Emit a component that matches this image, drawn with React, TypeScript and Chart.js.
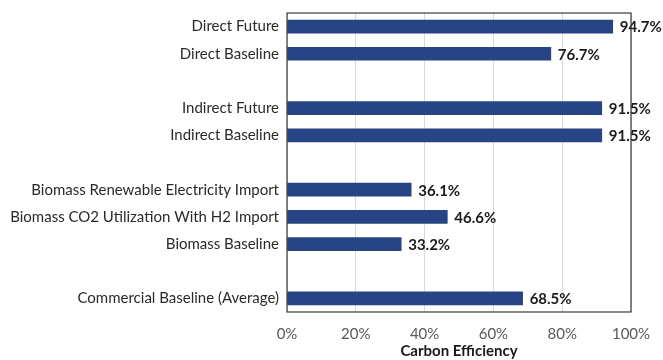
import React, { useEffect, useRef } from "react";
import { Chart, registerables } from "chart.js";

Chart.register(...registerables);

const categories = [
  "Direct Future",
  "Direct Baseline",
  "",
  "Indirect Future",
  "Indirect Baseline",
  "",
  "Biomass Renewable Electricity Import",
  "Biomass CO2 Utilization With H2 Import",
  "Biomass Baseline",
  "",
  "Commercial Baseline (Average)",
];
const efficiency: (number | null)[] = [94.7, 76.7, null, 91.5, 91.5, null, 36.1, 46.6, 33.2, null, 68.5];
const xTicks = [0, 20, 40, 60, 80, 100];

const FONT = "Lato, 'Open Sans', sans-serif";

const valueLabels = {
  id: "valueLabels",
  afterDatasetsDraw(chart: any) {
    const ctx = chart.ctx;
    const meta = chart.getDatasetMeta(0);
    ctx.save();
    ctx.font = `bold 15px ${FONT}`;
    ctx.fillStyle = "#1a1a1a";
    ctx.textAlign = "left";
    ctx.textBaseline = "middle";
    meta.data.forEach((bar: any, i: number) => {
      const v = efficiency[i];
      if (v == null) return;
      ctx.fillText(v.toFixed(1) + "%", bar.x + 7, bar.y + 1);
    });
    ctx.restore();
  },
};

const plotBorder = {
  id: "plotBorder",
  afterDraw(chart: any) {
    const { ctx, chartArea } = chart;
    ctx.save();
    ctx.strokeStyle = "#3a3a3a";
    ctx.lineWidth = 1.2;
    ctx.strokeRect(chartArea.left, chartArea.top, chartArea.right - chartArea.left, chartArea.bottom - chartArea.top);
    ctx.restore();
  },
};

export default function App() {
  const ref = useRef<HTMLCanvasElement>(null);
  useEffect(() => {
    const chart = new Chart(ref.current!, {
      type: "bar",
      data: {
        labels: categories,
        datasets: [
          {
            data: efficiency,
            backgroundColor: "#274585",
            borderWidth: 0,
            barThickness: 13,
          },
        ],
      },
      options: {
        indexAxis: "y",
        animation: false,
        responsive: false,
        maintainAspectRatio: false,
        layout: { padding: { top: 13, right: 32, bottom: 0, left: 0 } },
        plugins: { legend: { display: false }, tooltip: { enabled: false } },
        scales: {
          x: {
            min: 0,
            max: 100,
            afterBuildTicks(scale: any) {
              scale.ticks = xTicks.map((v) => ({ value: v }));
            },
            afterFit(scale: any) {
              scale.height = 48;
              scale.paddingLeft = 0;
              scale.paddingRight = 0;
            },
            ticks: {
              callback: (v: any) => v + "%",
              color: "#595959",
              font: { family: FONT, size: 15 },
              padding: 13,
            },
            grid: { color: "#d9d9d9", drawTicks: false },
            border: { display: false },
            title: {
              display: true,
              text: "Carbon Efficiency",
              color: "#1a1a1a",
              font: { family: FONT, size: 15, weight: "bold" },
              padding: { top: 0, bottom: 0 },
            },
          },
          y: {
            afterFit(scale: any) {
              scale.width = 287;
              scale.paddingTop = 0;
              scale.paddingBottom = 0;
            },
            ticks: {
              color: "#2a2a2a",
              font: { family: FONT, size: 15 },
              padding: 8,
            },
            grid: { display: false, drawTicks: false },
            border: { display: false },
          },
        },
      },
      plugins: [valueLabels, plotBorder],
    });
    return () => chart.destroy();
  }, []);
  return (
    <div style={{ position: "fixed", left: 0, top: 0, width: 663, height: 360, background: "#fff" }}>
      <canvas ref={ref} width={663} height={360} style={{ width: 663, height: 360 }} />
    </div>
  );
}
